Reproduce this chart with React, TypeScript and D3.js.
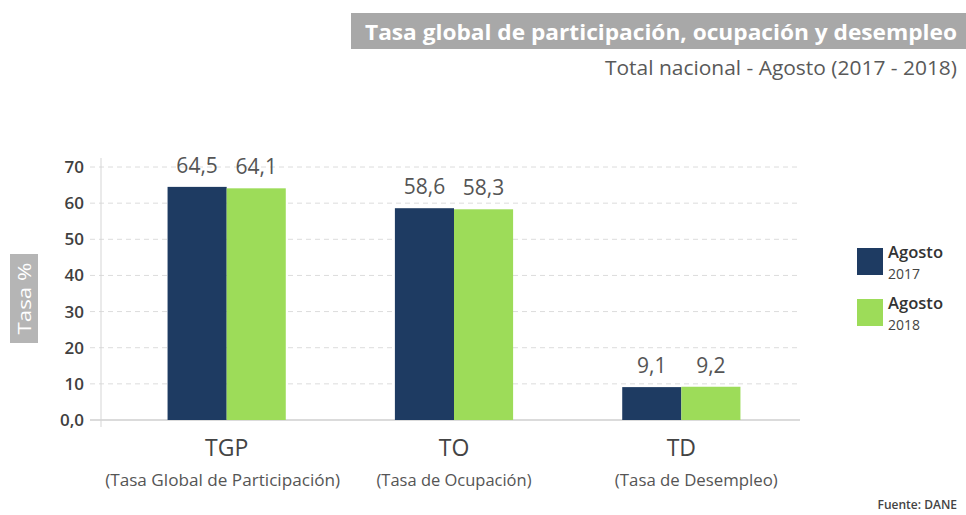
import * as d3 from 'd3';

const categories = ['TGP', 'TO', 'TD'];
const categoryNames = ['(Tasa Global de Participación)', '(Tasa de Ocupación)', '(Tasa de Desempleo)'];
const categoryNameWidths = [235, 155, 163];
const categoryNameShift = [-4, 0, 15];
const seriesKeys = ['2017', '2018'];
const values2017 = [64.5, 58.6, 9.1];
const values2018 = [64.1, 58.3, 9.2];
const yTicks = [0, 10, 20, 30, 40, 50, 60, 70];

const colors: Record<string, string> = { '2017': '#1e3b62', '2018': '#9ddc59' };

const width = 966;
const height = 515;
const font = '"Open Sans", sans-serif';

const App = () => {
  const x = d3.scaleBand().domain(categories).range([113, 795]).paddingInner(0.48).paddingOuter(0.24);
  const xs = d3.scaleBand().domain(seriesKeys).range([0, x.bandwidth()]);
  const y = d3.scaleLinear().domain([0, 70]).range([420, 167]);
  const fmt = (v: number) => v.toFixed(1).replace('.', ',');

  const rows = categories.map((c, i) => ({ cat: c, vals: [values2017[i], values2018[i]] }));

  return (
    <svg width={width} height={height} style={{ position: 'absolute', left: 0, top: 0 }} fontFamily={font}>
      <rect width={width} height={height} fill="#fff" />
      {/* title */}
      <rect x={351} y={13} width={615} height={36} fill="#a8a8a8" />
      <text x={957} y={40} textAnchor="end" fill="#fff" fontWeight="bold" fontSize={22}
        textLength={592} lengthAdjust="spacingAndGlyphs">
        Tasa global de participación, ocupación y desempleo
      </text>
      <text x={957} y={75} textAnchor="end" fill="#595959" fontSize={20}
        textLength={352} lengthAdjust="spacingAndGlyphs">
        Total nacional - Agosto (2017 - 2018)
      </text>

      {/* y label */}
      <rect x={10} y={254} width={28} height={89} fill="#b5b5b5" />
      <text transform="translate(30.5,298.5) rotate(-90)" textAnchor="middle" fill="#fff" fontSize={18}
        textLength={72} lengthAdjust="spacingAndGlyphs">
        Tasa %
      </text>

      {/* grid */}
      {yTicks.filter(t => t > 0).map(t => (
        <line key={t} x1={90} x2={800} y1={y(t)} y2={y(t)} stroke="#dcdcdc" strokeDasharray="5,4" />
      ))}
      <line x1={90} x2={800} y1={y(0)} y2={y(0)} stroke="#cfcfcf" strokeWidth={1.5} />
      <line x1={101} x2={101} y1={158} y2={427} stroke="#d5d5d5" />
      {yTicks.map(t => (
        <text key={t} x={84} y={y(t)} dy="0.35em" textAnchor="end" fill="#404040" fontSize={17} fontWeight={600}>
          {t === 0 ? '0,0' : t}
        </text>
      ))}

      {/* bars */}
      {rows.map(r => (
        <g key={r.cat} transform={`translate(${x(r.cat)},0)`}>
          {seriesKeys.map((k, j) => (
            <g key={k}>
              <rect x={xs(k)} y={y(r.vals[j])} width={xs.bandwidth()} height={y(0) - y(r.vals[j])} fill={colors[k]} />
              <text x={(xs(k) || 0) + xs.bandwidth() / 2} y={y(r.vals[j]) - 14} textAnchor="middle"
                fill="#555" fontSize={21}>
                {fmt(r.vals[j])}
              </text>
            </g>
          ))}
        </g>
      ))}

      {/* category labels */}
      {categories.map((c, i) => (
        <g key={c}>
          <text x={(x(c) || 0) + x.bandwidth() / 2} y={456} textAnchor="middle" fill="#444" fontSize={23}>
            {c}
          </text>
          <text x={(x(c) || 0) + x.bandwidth() / 2 + categoryNameShift[i]} y={486} textAnchor="middle" fill="#555"
            fontSize={17} textLength={categoryNameWidths[i]} lengthAdjust="spacingAndGlyphs">
            {categoryNames[i]}
          </text>
        </g>
      ))}

      {/* legend */}
      {seriesKeys.map((k, i) => (
        <g key={k} transform={`translate(857,${248 + i * 51})`}>
          <rect width={26} height={27} fill={colors[k]} />
          <text x={31} y={10} fill="#333" fontSize={16} fontWeight={600}
            textLength={55} lengthAdjust="spacingAndGlyphs">Agosto</text>
          <text x={31} y={31} fill="#444" fontSize={15}
            textLength={32} lengthAdjust="spacingAndGlyphs">{k}</text>
        </g>
      ))}

      <text x={957} y={509} textAnchor="end" fill="#444" fontSize={12} fontWeight={600}>Fuente: DANE</text>
    </svg>
  );
};

export default App;
